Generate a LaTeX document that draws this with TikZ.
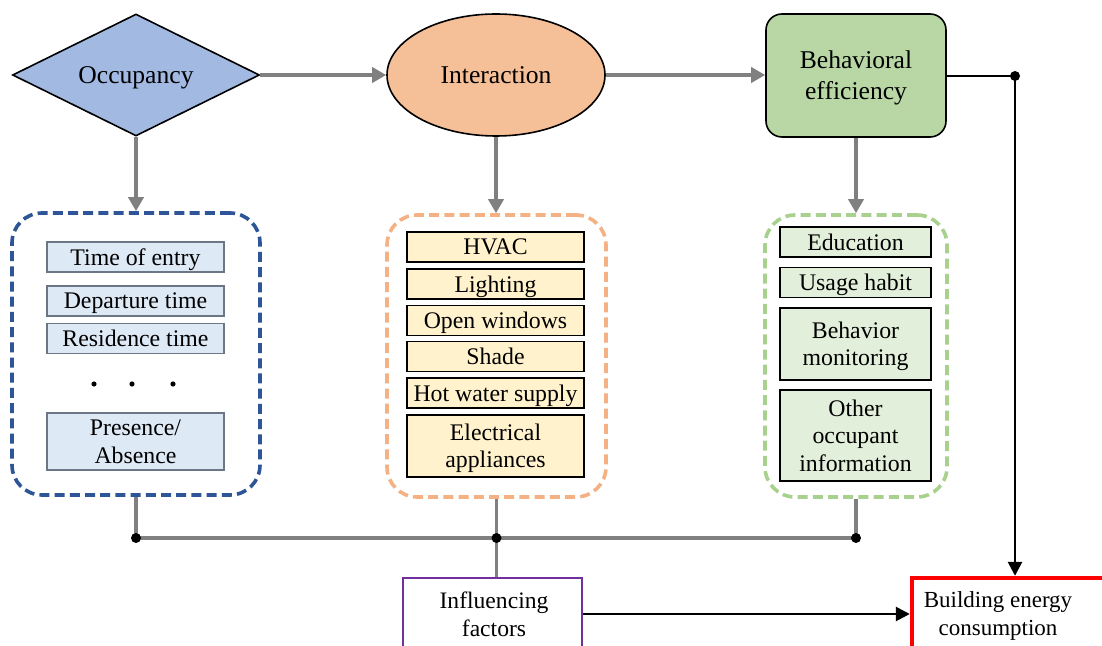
\documentclass[tikz,border=0pt]{standalone}
\usepackage{fontspec}
\setmainfont{Liberation Serif}
\usetikzlibrary{shapes.geometric,arrows.meta}

\definecolor{occfill}{HTML}{A2B9E1}
\definecolor{intfill}{HTML}{F5BF98}
\definecolor{efffill}{HTML}{B8D7A5}
\definecolor{occdash}{HTML}{2E5597}
\definecolor{intdash}{HTML}{F4B183}
\definecolor{effdash}{HTML}{A9D18E}
\definecolor{occitem}{HTML}{DEE9F6}
\definecolor{occedge}{HTML}{6B7785}
\definecolor{intitem}{HTML}{FFF2CC}
\definecolor{effitem}{HTML}{E2EFDA}
\definecolor{flowgray}{HTML}{808080}
\definecolor{inflpurple}{HTML}{7030A0}

\tikzset{
  mainfont/.style={font=\fontsize{12.8}{15.5}\selectfont, align=center, text depth=0pt},
  itemfont/.style={font=\fontsize{11.9}{13.7}\selectfont, align=center, text depth=0pt},
  labelfont/.style={font=\fontsize{11.6}{14}\selectfont, align=center, text depth=0pt},
  stage/.style={mainfont, draw=black, line width=0.8pt, inner sep=0pt},
  group/.style={draw, line width=1.8pt, dash pattern=on 5pt off 2.6pt, rounded corners=15pt, inner sep=0pt},
  item/.style={itemfont, draw=black, line width=0.9pt, inner sep=0pt, minimum height=15pt},
  occbox/.style={item, fill=occitem, draw=occedge, minimum width=88.5pt},
  intbox/.style={item, fill=intitem, minimum width=88.5pt},
  effbox/.style={item, fill=effitem, minimum width=75.5pt},
  grayflow/.style={draw=flowgray, line width=1.8pt},
  grayarrow/.style={grayflow, -{Triangle[length=7pt,width=7.5pt]}},
  blackarrow/.style={draw=black, line width=1.3pt, -{Triangle[length=7pt,width=7pt]}},
  joint/.style={circle, fill=black, inner sep=0pt, minimum size=5pt},
  dotmark/.style={circle, fill=black, inner sep=0pt, minimum size=2.6pt},
}

\begin{document}
\begin{tikzpicture}[x=0.5pt, y=-0.5pt]
\clip (0,0) rectangle (1102,646);
\fill[white] (0,0) rectangle (1102,646);

% top row of stages
\node[stage, diamond, aspect=2, fill=occfill, minimum width=123.5pt, minimum height=61pt] (occ) at (136,75) {Occupancy};
\node[stage, ellipse, fill=intfill, minimum width=109pt, minimum height=61pt] (int) at (496,75) {Interaction};
\node[stage, rectangle, rounded corners=8pt, fill=efffill, minimum width=90pt, minimum height=61.5pt] (eff) at (856,75.5) {Behavioral\\efficiency};

% dashed groups
\node[group, draw=occdash, minimum width=124pt, minimum height=141pt] (gocc) at (136,354) {};
\node[group, draw=intdash, minimum width=109.5pt, minimum height=141pt] (gint) at (496.5,356) {};
\node[group, draw=effdash, minimum width=91pt, minimum height=141pt] (geff) at (856,356) {};

% occupancy items
\node[occbox] (o1) at (135.5,257) {Time of entry};
\node[occbox] (o2) at (135.5,301) {Departure time};
\node[occbox] (o3) at (135.5,338.5) {Residence time};
\node[dotmark] (d1) at (94,384) {};
\node[dotmark] (d2) at (132,384) {};
\node[dotmark] (d3) at (173,384) {};
\node[occbox, minimum height=28.5pt] (o4) at (135.5,441.5) {Presence/\\Absence};

% interaction items
\node[intbox] (i1) at (495.5,247) {HVAC};
\node[intbox] (i2) at (495.5,284) {Lighting};
\node[intbox] (i3) at (495.5,320.5) {Open windows};
\node[intbox] (i4) at (495.5,356.5) {Shade};
\node[intbox] (i5) at (495.5,393) {Hot water supply};
\node[intbox, minimum height=31pt] (i6) at (495.5,446) {Electrical\\appliances};

% behavioral efficiency items
\node[effbox] (e1) at (855.5,242) {Education};
\node[effbox] (e2) at (855.5,282.5) {Usage habit};
\node[effbox, minimum height=36pt] (e3) at (855.5,344) {Behavior\\monitoring};
\node[effbox, minimum height=45.5pt] (e4) at (855.5,435.5) {Other\\occupant\\information};

% bottom row
\node[draw=inflpurple, line width=1.3pt, fill=white, minimum width=89.5pt, minimum height=38pt, inner sep=0pt] (infl) at (492.5,616) {};
\node[labelfont, font=\fontsize{11.8}{14}\selectfont] (infltext) at (494,614) {Influencing\\factors};
\node[draw=red, line width=2.2pt, fill=white, minimum width=100pt, minimum height=38pt, inner sep=0pt] (bec) at (1012,616) {};
\node[labelfont, font=\fontsize{11.5}{14}\selectfont] (bectext) at (998,614) {Building energy\\consumption};

% routing points
\coordinate (jr) at (1015,76);
\coordinate (bus) at (0,538);
\coordinate (b1) at (gocc.south |- bus);
\coordinate (b2) at (gint.south |- bus);
\coordinate (b3) at (geff.south |- bus);

% gray flow
\draw[grayarrow] (occ.east) -- (int.west);
\draw[grayarrow] (int.east) -- (int.east -| eff.west);
\draw[grayarrow] (occ.south) -- (gocc.north);
\draw[grayarrow] (int.south) -- (int.south |- gint.north);
\draw[grayarrow] (eff.south) -- (eff.south |- geff.north);
\draw[grayflow] (gocc.south) -- (b1) -- (b3) -- (geff.south);
\draw[grayflow] (gint.south) -- (b2) -- (b2 |- infl.north);

% black flow
\draw[draw=black, line width=1.3pt] (eff.east |- jr) -- (jr);
\draw[blackarrow] (jr) -- (jr |- bec.north);
\draw[blackarrow] (infl.east |- bectext) -- (bec.west |- bectext);

% junction dots
\node[joint] (j1) at (b1) {};
\node[joint] (j2) at (b2) {};
\node[joint] (j3) at (b3) {};
\node[joint] (j4) at (jr) {};
\end{tikzpicture}
\end{document}
